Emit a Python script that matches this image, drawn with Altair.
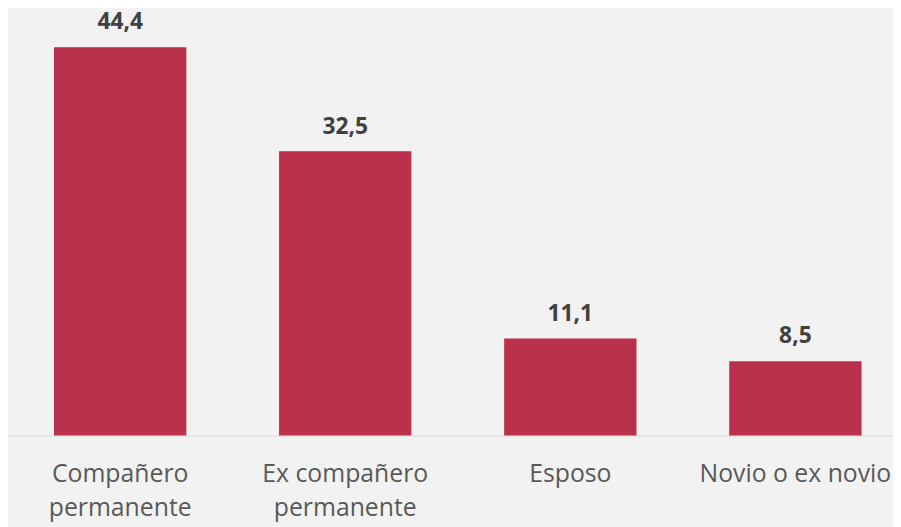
import altair as alt
import pandas as pd

categories = ["Compañero|permanente", "Ex compañero|permanente", "Esposo", "Novio o ex novio"]
values = [44.4, 32.5, 11.1, 8.5]

df = pd.DataFrame({
    "cat": categories,
    "val": values,
    "lab": [f"{v:.1f}".replace(".", ",") for v in values],
})

FONT = "Open Sans"

x = alt.X(
    "cat:N",
    sort=categories,
    scale=alt.Scale(paddingInner=0.412, paddingOuter=0.172, align=0.594),
    axis=alt.Axis(
        title=None,
        labelAngle=0,
        ticks=False,
        grid=False,
        domainColor="#D9D9D9",
        domainWidth=1,
        labelFont=FONT,
        labelFontSize=25,
        labelColor="#595959",
        labelPadding=26,
        labelLineHeight=35,
        labelLimit=400,
        labelExpr="split(datum.label, '|')",
    ),
)
y = alt.Y("val:Q", scale=alt.Scale(domain=[0, 47.5]), axis=None)

bars = alt.Chart(df).mark_bar(color="#B9314B").encode(x=x, y=y)
text = alt.Chart(df).mark_text(
    font=FONT, fontSize=23, fontWeight="bold", color="#404040", dy=-18, baseline="alphabetic"
).encode(x=x, y=y, text="lab:N")

chart = (bars + text).properties(
    width=893,
    height=419,
    background="#F2F2F2",
    autosize=alt.AutoSizeParams(type="none"),
    padding={"left": 0, "top": 10, "right": 0, "bottom": 90},
).configure_view(stroke=None)

chart.save("out.html", embed_options={"renderer": "svg", "actions": False})
